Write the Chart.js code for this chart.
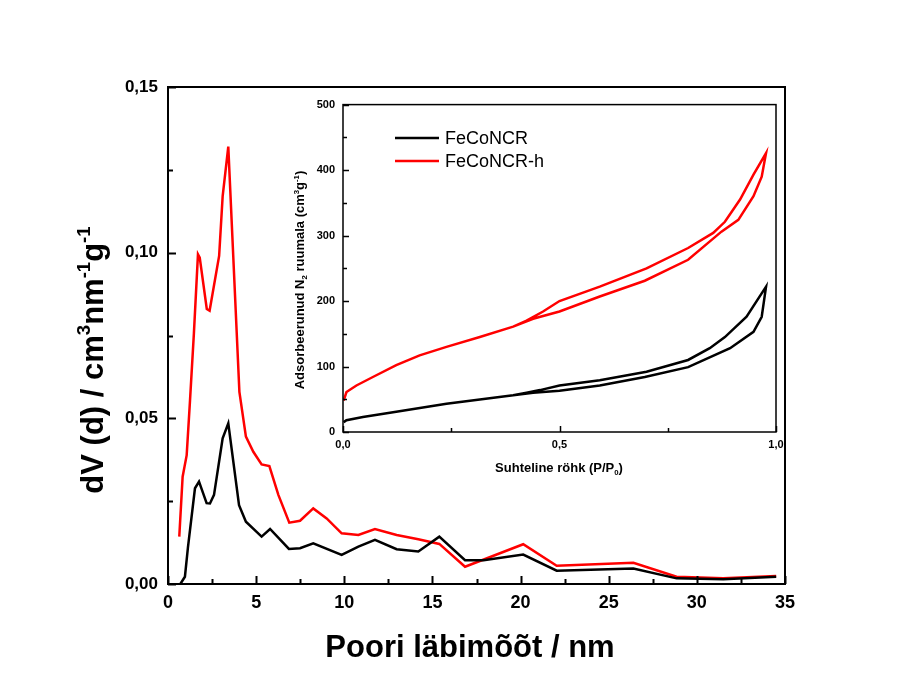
<!DOCTYPE html>
<html>
<head>
<meta charset="utf-8">
<script src="https://cdn.jsdelivr.net/npm/chart.js@4.4.1/dist/chart.umd.min.js"></script>
<style>
  html, body { margin: 0; padding: 0; background: #fff; }
  #wrap { position: relative; width: 898px; height: 691px; }
  #mainChart { position: absolute; left: 0; top: 0; }
  #insetChart { position: absolute; left: 270px; top: 90px; }
</style>
</head>
<body>
<div id="wrap">
  <canvas id="mainChart" width="898" height="691"></canvas>
  <canvas id="insetChart" width="520" height="400"></canvas>
</div>
<script>
// Pooride jaotus (põhigraafik)
const redPoreX = [0.64, 0.83, 1.06, 1.25, 1.47, 1.70, 1.80, 2.20, 2.36, 2.90, 3.10, 3.42, 4.05, 4.42, 4.84, 5.31, 5.75, 6.26, 6.88, 7.49, 8.24, 9.00, 9.85, 10.80, 11.74, 12.97, 14.20, 15.39, 16.85, 20.15, 22.05, 26.40, 28.85, 31.50, 34.50];
const redPoreY = [0.0143, 0.0324, 0.0389, 0.0555, 0.0757, 0.0995, 0.0985, 0.0830, 0.0825, 0.0990, 0.1170, 0.1320, 0.0580, 0.0445, 0.0399, 0.0361, 0.0356, 0.0269, 0.0185, 0.0191, 0.0228, 0.0198, 0.0153, 0.0148, 0.0166, 0.0148, 0.0135, 0.0121, 0.0052, 0.0120, 0.0055, 0.0064, 0.0022, 0.0017, 0.0024];
const blackPoreX = [0.70, 0.96, 1.13, 1.53, 1.76, 2.19, 2.38, 2.61, 3.10, 3.42, 4.03, 4.42, 5.31, 5.79, 6.86, 7.49, 8.24, 9.85, 10.80, 11.74, 12.97, 14.20, 15.39, 16.85, 17.90, 20.15, 22.05, 26.40, 28.85, 31.50, 34.50];
const blackPoreY = [0.0000, 0.0022, 0.0110, 0.0289, 0.0309, 0.0244, 0.0243, 0.0269, 0.0440, 0.0485, 0.0238, 0.0188, 0.0143, 0.0166, 0.0106, 0.0108, 0.0123, 0.0088, 0.0113, 0.0133, 0.0105, 0.0098, 0.0143, 0.0072, 0.0072, 0.0089, 0.0040, 0.0047, 0.0017, 0.0014, 0.0022];

// Isotermid (sisegraafik): adsorptsioon ja desorptsioon
const redAdsP = [0.0015, 0.008, 0.031, 0.069, 0.123, 0.177, 0.239, 0.316, 0.393, 0.439, 0.500, 0.593, 0.697, 0.797, 0.874, 0.913, 0.948, 0.967, 0.977];
const redAdsV = [48, 61, 71, 84, 102, 117, 130, 145, 161, 173, 184, 207, 231, 263, 306, 324, 360, 390, 426];
const redDesP = [0.977, 0.948, 0.917, 0.882, 0.855, 0.797, 0.701, 0.593, 0.500, 0.462, 0.424, 0.393];
const redDesV = [426, 393, 355, 321, 304, 281, 250, 222, 200, 184, 170, 161];
const blackAdsP = [0.0015, 0.008, 0.046, 0.123, 0.239, 0.393, 0.439, 0.500, 0.593, 0.697, 0.797, 0.894, 0.948, 0.967, 0.977];
const blackAdsV = [15, 18, 23, 31, 43, 56, 60, 63, 71, 84, 99, 128, 153, 176, 222];
const blackDesP = [0.977, 0.932, 0.882, 0.847, 0.797, 0.701, 0.593, 0.500, 0.455, 0.424, 0.393];
const blackDesV = [222, 176, 145, 128, 110, 92, 79, 71, 64, 60, 56];

const seriesNames = ['FeCoNCR', 'FeCoNCR-h'];
const seriesColors = ['#000000', '#ff0000'];

const FONT = '"Liberation Sans", Arial, sans-serif';
Chart.defaults.font.family = FONT;
Chart.defaults.color = '#000';

const toPoints = (xs, ys) => xs.map((x, i) => ({ x: x, y: ys[i] }));

// Tekst ülaindeksite ja alaindeksitega
function drawRich(ctx, t) {
  ctx.save();
  ctx.translate(t.x, t.y);
  if (t.rotate) ctx.rotate(t.rotate);
  const fontFor = p => `bold ${p[1] ? t.size * 0.6 : t.size}px ${FONT}`;
  let w = 0;
  t.parts.forEach(p => { ctx.font = fontFor(p); w += ctx.measureText(p[0]).width; });
  let x = -w / 2;
  ctx.fillStyle = '#000';
  ctx.textAlign = 'left';
  ctx.textBaseline = 'alphabetic';
  t.parts.forEach(p => {
    ctx.font = fontFor(p);
    const dy = p[1] === 'sup' ? -t.size * 0.42 : p[1] === 'sub' ? t.size * 0.22 : 0;
    ctx.fillText(p[0], x, dy);
    x += ctx.measureText(p[0]).width;
  });
  ctx.restore();
}

// Raam, sissepoole suunatud kriipsud, teljepealkirjad ja legend
const frameTicks = {
  id: 'frameTicks',
  afterDraw(chart, args, o) {
    const { ctx, chartArea: a, scales } = chart;
    ctx.save();
    ctx.strokeStyle = '#000';
    ctx.lineWidth = o.tickWidth;
    ctx.beginPath();
    const xs = scales.x.ticks.map(t => t.value);
    const ys = scales.y.ticks.map(t => t.value);
    xs.forEach((v, i) => {
      let px = Math.round(scales.x.getPixelForValue(v)) + 0.5;
      ctx.moveTo(px, a.bottom); ctx.lineTo(px, a.bottom - o.majorLen);
      if (i < xs.length - 1) {
        px = Math.round(scales.x.getPixelForValue((v + xs[i + 1]) / 2)) + 0.5;
        ctx.moveTo(px, a.bottom); ctx.lineTo(px, a.bottom - o.minorLen);
      }
    });
    ys.forEach((v, i) => {
      let py = Math.round(scales.y.getPixelForValue(v)) + 0.5;
      ctx.moveTo(a.left, py); ctx.lineTo(a.left + o.majorLen, py);
      if (i < ys.length - 1) {
        py = Math.round(scales.y.getPixelForValue((v + ys[i + 1]) / 2)) + 0.5;
        ctx.moveTo(a.left, py); ctx.lineTo(a.left + o.minorLen, py);
      }
    });
    ctx.stroke();
    ctx.lineWidth = o.frameWidth;
    ctx.strokeRect(a.left, a.top, a.right - a.left, a.bottom - a.top);
    (o.titles || []).forEach(t => drawRich(ctx, t));
    if (o.legend) {
      const L = o.legend;
      chart.data.datasets.forEach((ds, i) => {
        const y = L.y + i * L.gap;
        ctx.strokeStyle = ds.borderColor;
        ctx.lineWidth = 2.5;
        ctx.beginPath();
        ctx.moveTo(L.x, y); ctx.lineTo(L.x + L.len, y);
        ctx.stroke();
        ctx.fillStyle = '#000';
        ctx.font = `${L.size}px ${FONT}`;
        ctx.textBaseline = 'middle';
        ctx.fillText(ds.label, L.x + L.len + 6, y + 1);
      });
    }
    ctx.restore();
  }
};

const commaFmt = d => v => v.toFixed(d).replace('.', ',');

new Chart(document.getElementById('mainChart'), {
  type: 'scatter',
  data: {
    datasets: [
      { label: seriesNames[0], data: toPoints(blackPoreX, blackPoreY), borderColor: seriesColors[0] },
      { label: seriesNames[1], data: toPoints(redPoreX, redPoreY), borderColor: seriesColors[1] }
    ].map(d => Object.assign(d, { showLine: true, pointRadius: 0, borderWidth: 2.5, tension: 0 }))
  },
  options: {
    responsive: false,
    animation: false,
    devicePixelRatio: 1,
    layout: { padding: { top: 87, right: 113, left: 0, bottom: 0 } },
    plugins: {
      legend: { display: false },
      tooltip: { enabled: false },
      frameTicks: {
        tickWidth: 2, frameWidth: 2, majorLen: 8, minorLen: 5,
        titles: [
          { parts: [['Poori läbimõõt / nm']], x: 470, y: 657, size: 31 },
          { parts: [['dV (d) / cm'], ['3', 'sup'], ['nm'], ['-1', 'sup'], ['g'], ['-1', 'sup']], x: 103, y: 360, size: 31, rotate: -Math.PI / 2 }
        ]
      }
    },
    scales: {
      x: {
        type: 'linear', min: 0, max: 35,
        ticks: { stepSize: 5, padding: 8, font: { size: 18, weight: 'bold' } },
        grid: { display: false, drawTicks: false },
        border: { display: false },
        afterFit: s => { s.height = 107; }
      },
      y: {
        type: 'linear', min: 0, max: 0.15,
        ticks: { stepSize: 0.05, padding: 10, font: { size: 17, weight: 'bold' }, callback: commaFmt(2) },
        grid: { display: false, drawTicks: false },
        border: { display: false },
        afterFit: s => { s.width = 168; }
      }
    }
  },
  plugins: [frameTicks]
});

new Chart(document.getElementById('insetChart'), {
  type: 'scatter',
  data: {
    datasets: [
      { label: seriesNames[0], data: toPoints(blackAdsP.concat(blackDesP), blackAdsV.concat(blackDesV)), borderColor: seriesColors[0] },
      { label: seriesNames[1], data: toPoints(redAdsP.concat(redDesP), redAdsV.concat(redDesV)), borderColor: seriesColors[1] }
    ].map(d => Object.assign(d, { showLine: true, pointRadius: 0, borderWidth: 2.5, tension: 0 }))
  },
  options: {
    responsive: false,
    animation: false,
    devicePixelRatio: 1,
    layout: { padding: { top: 14, right: 14, left: 0, bottom: 0 } },
    plugins: {
      legend: { display: false },
      tooltip: { enabled: false },
      frameTicks: {
        tickWidth: 1.5, frameWidth: 1.5, majorLen: 6, minorLen: 4,
        titles: [
          { parts: [['Suhteline röhk (P/P'], ['0', 'sub'], [')']], x: 289, y: 382, size: 13 },
          { parts: [['Adsorbeerunud N'], ['2', 'sub'], [' ruumala (cm'], ['3', 'sup'], ['g'], ['-1', 'sup'], [')']], x: 34, y: 190, size: 13, rotate: -Math.PI / 2 }
        ],
        legend: { x: 125, y: 48, len: 44, gap: 23, size: 18 }
      }
    },
    scales: {
      x: {
        type: 'linear', min: 0, max: 1,
        ticks: { stepSize: 0.5, padding: 6, font: { size: 11, weight: 'bold' }, callback: commaFmt(1) },
        grid: { display: false, drawTicks: false },
        border: { display: false },
        afterFit: s => { s.height = 58; }
      },
      y: {
        type: 'linear', min: 0, max: 500,
        ticks: { stepSize: 100, padding: 8, font: { size: 11, weight: 'bold' } },
        grid: { display: false, drawTicks: false },
        border: { display: false },
        afterFit: s => { s.width = 73; }
      }
    }
  },
  plugins: [frameTicks]
});
</script>
</body>
</html>
